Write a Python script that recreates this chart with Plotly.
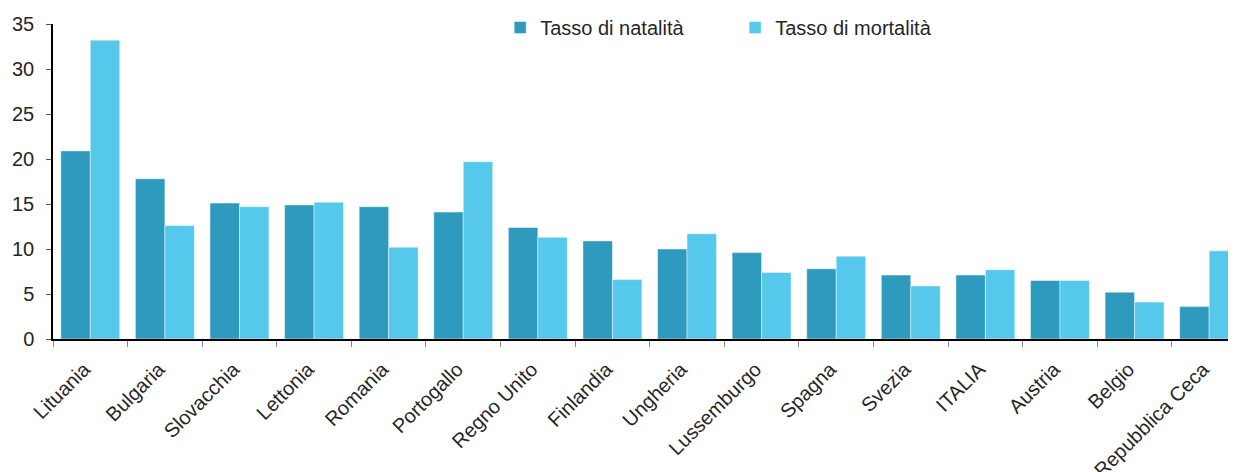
import plotly.graph_objects as go

paesi = ["Lituania", "Bulgaria", "Slovacchia", "Lettonia", "Romania", "Portogallo",
         "Regno Unito", "Finlandia", "Ungheria", "Lussemburgo", "Spagna", "Svezia",
         "ITALIA", "Austria", "Belgio", "Repubblica Ceca"]
natalita = [20.9, 17.8, 15.1, 14.9, 14.7, 14.1, 12.4, 10.9, 10.0, 9.6, 7.8, 7.1, 7.1, 6.5, 5.2, 3.6]
mortalita = [33.2, 12.6, 14.7, 15.2, 10.2, 19.7, 11.3, 6.6, 11.7, 7.4, 9.2, 5.9, 7.7, 6.5, 4.1, 9.8]
y_ticks = [0, 5, 10, 15, 20, 25, 30, 35]

FONT = "Liberation Sans, Arial, sans-serif"

fig = go.Figure()
fig.add_trace(go.Bar(x=paesi, y=natalita, name="Tasso di natalità",
                     marker=dict(color="#2E9ABD", line=dict(color="rgba(255,255,255,0.45)", width=1))))
fig.add_trace(go.Bar(x=paesi, y=mortalita, name="Tasso di mortalità",
                     marker=dict(color="#55C8EB", line=dict(color="rgba(255,255,255,0.45)", width=1))))

# page body has an 8px offset; figure sized to fit the window
fig.update_layout(
    width=1228, height=464,
    margin=dict(l=45, r=0, t=14, b=133),
    paper_bgcolor="white", plot_bgcolor="white",
    barmode="group", bargap=0.21, bargroupgap=0,
    font=dict(family=FONT, size=20, color="#262626"),
    legend=dict(orientation="h", x=0.378, y=0.99, xanchor="left", yanchor="middle",
                font=dict(size=20, color="#262626"), bgcolor="rgba(0,0,0,0)",
                entrywidth=190, entrywidthmode="pixels", itemwidth=30),
    xaxis=dict(range=[-0.5, 15.36], tickangle=-45, tickfont=dict(size=20),
               showline=True, linecolor="#000000", linewidth=1.5,
               ticks="outside", tickson="boundaries", ticklen=6, tickcolor="#888888",
               ticklabelstandoff=9, ticklabelshift=-6,
               showgrid=False, fixedrange=True, automargin=False),
    yaxis=dict(range=[0, 35], tickvals=y_ticks, showline=True, linecolor="#000000", linewidth=1.5,
               ticks="outside", ticklen=5, tickcolor="#555555", showgrid=False, zeroline=False,
               ticklabelstandoff=8, tickfont=dict(size=20), automargin=False),
)

fig.write_html("out.html")
